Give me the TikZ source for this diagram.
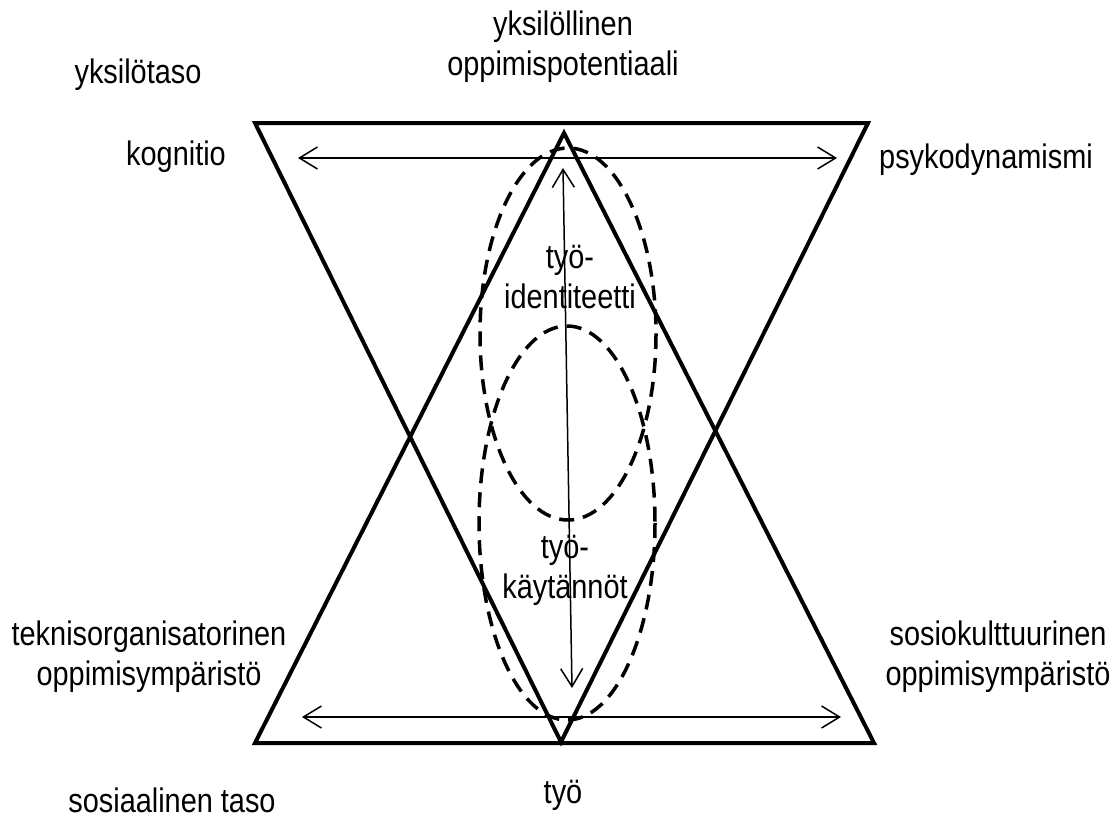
\documentclass[tikz,border=0pt]{standalone}
\usepackage{fontspec}
\setmainfont{Liberation Sans}[FakeStretch=0.85]
\usetikzlibrary{arrows.meta}
\begin{document}
\begin{tikzpicture}[x=1pt,y=-1pt,
  tri/.style={line width=4pt,line join=miter},
  dbl/.style={line width=1.5pt,{Straight Barb[length=18pt,width=22pt]}-{Straight Barb[length=18pt,width=22pt]}},
  dashell/.style={line width=3.5pt,dash pattern=on 15pt off 9pt},
  lbl/.style={inner sep=0pt,align=center,font=\fontsize{34}{40}\selectfont}]
\useasboundingbox (0,0) rectangle (1115,822);
% vertices
\coordinate (A) at (255,123);
\coordinate (B) at (868,123);
\coordinate (C) at (561,742);
\coordinate (D) at (564,133);
\coordinate (E) at (255,743);
\coordinate (F) at (874,743);
% arrow ends
\coordinate (tl) at (298,158);
\coordinate (tr) at (837,158);
\coordinate (bl) at (302,717);
\coordinate (br) at (841,717);
\coordinate (vt) at (563,168);
\coordinate (vb) at (572,688);
% triangles
\draw[tri] (A) -- (B) -- (C) -- cycle;
\draw[tri] (D) -- (E) -- (F) -- cycle;
% ellipses
\draw[dashell] (568,334) ellipse [x radius=88, y radius=186];
\draw[dashell] (567,523) ellipse [x radius=88, y radius=197];
% arrows
\draw[dbl] (tl) -- (tr);
\draw[dbl] (bl) -- (br);
\draw[dbl] (vt) -- (vb);
% labels
\node[lbl] (yt) at (138,75) {yksilötaso};
\node[lbl] (yop) at (563,47) {yksilöllinen\\oppimispotentiaali};
\node[lbl] (kog) at (176,157) {kognitio};
\node[lbl] (psy) at (986,160) {psykodynamismi};
\node[lbl] (tek) at (149,657) {teknisorganisatorinen\\oppimisympäristö};
\node[lbl] (sos) at (998,657) {sosiokulttuurinen\\oppimisympäristö};
\node[lbl] (tyo) at (563,795) {työ};
\node[lbl] (st) at (172,800) {sosiaalinen taso};
\node[lbl] (tid) at (570,277) {työ-\\identiteetti};
\node[lbl] (tka) at (565,570) {työ-\\käytännöt};
\end{tikzpicture}
\end{document}
